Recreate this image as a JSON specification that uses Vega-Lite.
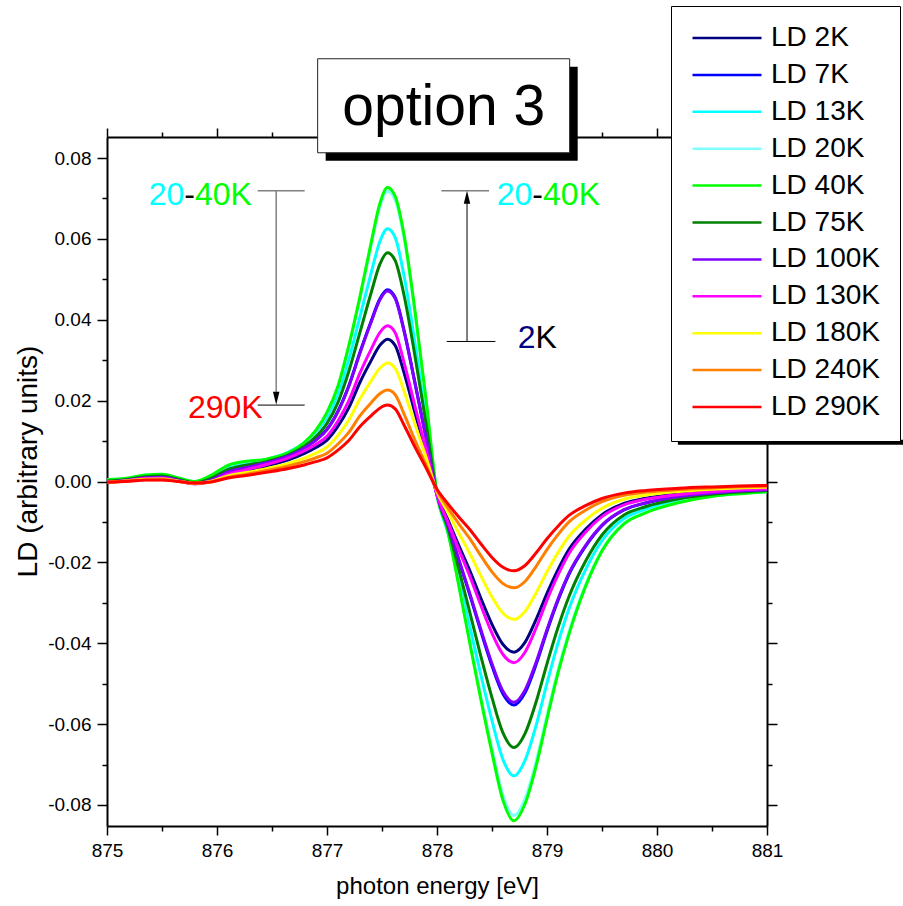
{
  "$schema": "https://vega.github.io/schema/vega-lite/v6.json",
  "width": 660,
  "height": 689,
  "autosize": "none",
  "padding": {"left": 107, "top": 137, "right": 136, "bottom": 80},
  "background": "white",
  "config": {
    "view": {"stroke": null},
    "font": "Liberation Sans",
    "axis": {"labelFont": "Liberation Sans", "titleFont": "Liberation Sans", "grid": false},
    "text": {"font": "Liberation Sans"}
  },
  "datasets": {
    "spectra": [
      {"series":"LD 2K","energy":875,"ld":-0.00021},{"series":"LD 2K","energy":875.2,"ld":0.00025},{"series":"LD 2K","energy":875.35,"ld":0.00067},{"series":"LD 2K","energy":875.5,"ld":0.00074},{"series":"LD 2K","energy":875.65,"ld":0.00011},{"series":"LD 2K","energy":875.8,"ld":-0.00053},{"series":"LD 2K","energy":875.95,"ld":0.00007},{"series":"LD 2K","energy":876.1,"ld":0.00167},{"series":"LD 2K","energy":876.25,"ld":0.00257},{"series":"LD 2K","energy":876.45,"ld":0.00384},{"series":"LD 2K","energy":876.65,"ld":0.00535},{"series":"LD 2K","energy":876.8,"ld":0.007},{"series":"LD 2K","energy":876.9,"ld":0.00841},{"series":"LD 2K","energy":877,"ld":0.01024},{"series":"LD 2K","energy":877.1,"ld":0.01369},{"series":"LD 2K","energy":877.2,"ld":0.01834},{"series":"LD 2K","energy":877.3,"ld":0.02455},{"series":"LD 2K","energy":877.4,"ld":0.02983},{"series":"LD 2K","energy":877.48,"ld":0.03365},{"series":"LD 2K","energy":877.55,"ld":0.0352},{"series":"LD 2K","energy":877.62,"ld":0.03362},{"series":"LD 2K","energy":877.7,"ld":0.02693},{"series":"LD 2K","energy":877.8,"ld":0.01698},{"series":"LD 2K","energy":877.9,"ld":0.00722},{"series":"LD 2K","energy":878,"ld":-0.0031},{"series":"LD 2K","energy":878.1,"ld":-0.0095},{"series":"LD 2K","energy":878.2,"ld":-0.01593},{"series":"LD 2K","energy":878.3,"ld":-0.02216},{"series":"LD 2K","energy":878.4,"ld":-0.02895},{"series":"LD 2K","energy":878.5,"ld":-0.03534},{"series":"LD 2K","energy":878.6,"ld":-0.0403},{"series":"LD 2K","energy":878.7,"ld":-0.0422},{"series":"LD 2K","energy":878.8,"ld":-0.03977},{"series":"LD 2K","energy":878.9,"ld":-0.03418},{"series":"LD 2K","energy":879,"ld":-0.02764},{"series":"LD 2K","energy":879.1,"ld":-0.02178},{"series":"LD 2K","energy":879.2,"ld":-0.01677},{"series":"LD 2K","energy":879.35,"ld":-0.01182},{"series":"LD 2K","energy":879.5,"ld":-0.00819},{"series":"LD 2K","energy":879.7,"ld":-0.00544},{"series":"LD 2K","energy":879.9,"ld":-0.00414},{"series":"LD 2K","energy":880.2,"ld":-0.00304},{"series":"LD 2K","energy":880.5,"ld":-0.00236},{"series":"LD 2K","energy":880.75,"ld":-0.00196},{"series":"LD 2K","energy":881,"ld":-0.00173},
      {"series":"LD 7K","energy":875,"ld":-0.00009},{"series":"LD 7K","energy":875.2,"ld":0.0004},{"series":"LD 7K","energy":875.35,"ld":0.00095},{"series":"LD 7K","energy":875.5,"ld":0.00107},{"series":"LD 7K","energy":875.65,"ld":0.00028},{"series":"LD 7K","energy":875.8,"ld":-0.00047},{"series":"LD 7K","energy":875.95,"ld":0.0004},{"series":"LD 7K","energy":876.1,"ld":0.00237},{"series":"LD 7K","energy":876.25,"ld":0.00339},{"series":"LD 7K","energy":876.45,"ld":0.00465},{"series":"LD 7K","energy":876.65,"ld":0.00635},{"series":"LD 7K","energy":876.8,"ld":0.00841},{"series":"LD 7K","energy":876.9,"ld":0.01031},{"series":"LD 7K","energy":877,"ld":0.01292},{"series":"LD 7K","energy":877.1,"ld":0.01742},{"series":"LD 7K","energy":877.2,"ld":0.02382},{"series":"LD 7K","energy":877.3,"ld":0.032},{"series":"LD 7K","energy":877.4,"ld":0.03958},{"series":"LD 7K","energy":877.48,"ld":0.04515},{"series":"LD 7K","energy":877.55,"ld":0.0474},{"series":"LD 7K","energy":877.62,"ld":0.0455},{"series":"LD 7K","energy":877.7,"ld":0.03745},{"series":"LD 7K","energy":877.8,"ld":0.02441},{"series":"LD 7K","energy":877.9,"ld":0.0109},{"series":"LD 7K","energy":878,"ld":-0.00337},{"series":"LD 7K","energy":878.1,"ld":-0.01106},{"series":"LD 7K","energy":878.2,"ld":-0.01963},{"series":"LD 7K","energy":878.3,"ld":-0.0282},{"series":"LD 7K","energy":878.4,"ld":-0.03719},{"series":"LD 7K","energy":878.5,"ld":-0.04562},{"series":"LD 7K","energy":878.6,"ld":-0.05254},{"series":"LD 7K","energy":878.7,"ld":-0.0553},{"series":"LD 7K","energy":878.8,"ld":-0.05226},{"series":"LD 7K","energy":878.9,"ld":-0.04535},{"series":"LD 7K","energy":879,"ld":-0.03705},{"series":"LD 7K","energy":879.1,"ld":-0.02945},{"series":"LD 7K","energy":879.2,"ld":-0.02295},{"series":"LD 7K","energy":879.35,"ld":-0.01604},{"series":"LD 7K","energy":879.5,"ld":-0.01092},{"series":"LD 7K","energy":879.7,"ld":-0.00705},{"series":"LD 7K","energy":879.9,"ld":-0.00531},{"series":"LD 7K","energy":880.2,"ld":-0.00379},{"series":"LD 7K","energy":880.5,"ld":-0.00288},{"series":"LD 7K","energy":880.75,"ld":-0.00238},{"series":"LD 7K","energy":881,"ld":-0.00207},
      {"series":"LD 13K","energy":875,"ld":0.00013},{"series":"LD 13K","energy":875.2,"ld":0.00063},{"series":"LD 13K","energy":875.35,"ld":0.00131},{"series":"LD 13K","energy":875.5,"ld":0.0015},{"series":"LD 13K","energy":875.65,"ld":0.00056},{"series":"LD 13K","energy":875.8,"ld":-0.00031},{"series":"LD 13K","energy":875.95,"ld":0.00094},{"series":"LD 13K","energy":876.1,"ld":0.00328},{"series":"LD 13K","energy":876.25,"ld":0.00438},{"series":"LD 13K","energy":876.45,"ld":0.00544},{"series":"LD 13K","energy":876.65,"ld":0.00725},{"series":"LD 13K","energy":876.8,"ld":0.00975},{"series":"LD 13K","energy":876.9,"ld":0.01225},{"series":"LD 13K","energy":877,"ld":0.01588},{"series":"LD 13K","energy":877.1,"ld":0.02163},{"series":"LD 13K","energy":877.2,"ld":0.03025},{"series":"LD 13K","energy":877.3,"ld":0.04078},{"series":"LD 13K","energy":877.4,"ld":0.05141},{"series":"LD 13K","energy":877.48,"ld":0.05931},{"series":"LD 13K","energy":877.55,"ld":0.0625},{"series":"LD 13K","energy":877.62,"ld":0.06031},{"series":"LD 13K","energy":877.7,"ld":0.05094},{"series":"LD 13K","energy":877.8,"ld":0.03422},{"series":"LD 13K","energy":877.9,"ld":0.01594},{"series":"LD 13K","energy":878,"ld":-0.00353},{"series":"LD 13K","energy":878.1,"ld":-0.01274},{"series":"LD 13K","energy":878.2,"ld":-0.02421},{"series":"LD 13K","energy":878.3,"ld":-0.03604},{"series":"LD 13K","energy":878.4,"ld":-0.04798},{"series":"LD 13K","energy":878.5,"ld":-0.05915},{"series":"LD 13K","energy":878.6,"ld":-0.0688},{"series":"LD 13K","energy":878.7,"ld":-0.0728},{"series":"LD 13K","energy":878.8,"ld":-0.06898},{"series":"LD 13K","energy":878.9,"ld":-0.06042},{"series":"LD 13K","energy":879,"ld":-0.04987},{"series":"LD 13K","energy":879.1,"ld":-0.03997},{"series":"LD 13K","energy":879.2,"ld":-0.03149},{"series":"LD 13K","energy":879.35,"ld":-0.02184},{"series":"LD 13K","energy":879.5,"ld":-0.01463},{"series":"LD 13K","energy":879.7,"ld":-0.00917},{"series":"LD 13K","energy":879.9,"ld":-0.00684},{"series":"LD 13K","energy":880.2,"ld":-0.00473},{"series":"LD 13K","energy":880.5,"ld":-0.00349},{"series":"LD 13K","energy":880.75,"ld":-0.00288},{"series":"LD 13K","energy":881,"ld":-0.00248},
      {"series":"LD 20K","energy":875,"ld":0.00043},{"series":"LD 20K","energy":875.2,"ld":0.00086},{"series":"LD 20K","energy":875.35,"ld":0.00158},{"series":"LD 20K","energy":875.5,"ld":0.0018},{"series":"LD 20K","energy":875.65,"ld":0.00086},{"series":"LD 20K","energy":875.8,"ld":0},{"series":"LD 20K","energy":875.95,"ld":0.00158},{"series":"LD 20K","energy":876.1,"ld":0.00395},{"series":"LD 20K","energy":876.25,"ld":0.00488},{"series":"LD 20K","energy":876.45,"ld":0.00546},{"series":"LD 20K","energy":876.65,"ld":0.00704},{"series":"LD 20K","energy":876.8,"ld":0.00969},{"series":"LD 20K","energy":876.9,"ld":0.01257},{"series":"LD 20K","energy":877,"ld":0.01687},{"series":"LD 20K","energy":877.1,"ld":0.02334},{"series":"LD 20K","energy":877.2,"ld":0.03339},{"series":"LD 20K","energy":877.3,"ld":0.04523},{"series":"LD 20K","energy":877.4,"ld":0.05816},{"series":"LD 20K","energy":877.48,"ld":0.06785},{"series":"LD 20K","energy":877.55,"ld":0.0718},{"series":"LD 20K","energy":877.62,"ld":0.06965},{"series":"LD 20K","energy":877.7,"ld":0.06031},{"series":"LD 20K","energy":877.8,"ld":0.04164},{"series":"LD 20K","energy":877.9,"ld":0.0201},{"series":"LD 20K","energy":878,"ld":-0.00297},{"series":"LD 20K","energy":878.1,"ld":-0.01239},{"series":"LD 20K","energy":878.2,"ld":-0.02561},{"series":"LD 20K","energy":878.3,"ld":-0.03965},{"series":"LD 20K","energy":878.4,"ld":-0.05328},{"series":"LD 20K","energy":878.5,"ld":-0.06608},{"series":"LD 20K","energy":878.6,"ld":-0.07764},{"series":"LD 20K","energy":878.7,"ld":-0.0826},{"series":"LD 20K","energy":878.8,"ld":-0.07847},{"series":"LD 20K","energy":878.9,"ld":-0.06938},{"series":"LD 20K","energy":879,"ld":-0.05782},{"series":"LD 20K","energy":879.1,"ld":-0.04667},{"series":"LD 20K","energy":879.2,"ld":-0.03717},{"series":"LD 20K","energy":879.35,"ld":-0.02561},{"series":"LD 20K","energy":879.5,"ld":-0.01693},{"series":"LD 20K","energy":879.7,"ld":-0.01033},{"series":"LD 20K","energy":879.9,"ld":-0.0076},{"series":"LD 20K","energy":880.2,"ld":-0.00512},{"series":"LD 20K","energy":880.5,"ld":-0.00363},{"series":"LD 20K","energy":880.75,"ld":-0.00297},{"series":"LD 20K","energy":881,"ld":-0.00248},
      {"series":"LD 40K","energy":875,"ld":0.00044},{"series":"LD 40K","energy":875.2,"ld":0.00087},{"series":"LD 40K","energy":875.35,"ld":0.0016},{"series":"LD 40K","energy":875.5,"ld":0.00182},{"series":"LD 40K","energy":875.65,"ld":0.00087},{"series":"LD 40K","energy":875.8,"ld":0},{"series":"LD 40K","energy":875.95,"ld":0.0016},{"series":"LD 40K","energy":876.1,"ld":0.004},{"series":"LD 40K","energy":876.25,"ld":0.00494},{"series":"LD 40K","energy":876.45,"ld":0.00553},{"series":"LD 40K","energy":876.65,"ld":0.00712},{"series":"LD 40K","energy":876.8,"ld":0.00981},{"series":"LD 40K","energy":876.9,"ld":0.01272},{"series":"LD 40K","energy":877,"ld":0.01708},{"series":"LD 40K","energy":877.1,"ld":0.02363},{"series":"LD 40K","energy":877.2,"ld":0.03381},{"series":"LD 40K","energy":877.3,"ld":0.0458},{"series":"LD 40K","energy":877.4,"ld":0.05889},{"series":"LD 40K","energy":877.48,"ld":0.0687},{"series":"LD 40K","energy":877.55,"ld":0.0727},{"series":"LD 40K","energy":877.62,"ld":0.07052},{"series":"LD 40K","energy":877.7,"ld":0.06107},{"series":"LD 40K","energy":877.8,"ld":0.04217},{"series":"LD 40K","energy":877.9,"ld":0.02036},{"series":"LD 40K","energy":878,"ld":-0.00302},{"series":"LD 40K","energy":878.1,"ld":-0.01259},{"series":"LD 40K","energy":878.2,"ld":-0.02601},{"series":"LD 40K","energy":878.3,"ld":-0.04027},{"series":"LD 40K","energy":878.4,"ld":-0.05412},{"series":"LD 40K","energy":878.5,"ld":-0.06712},{"series":"LD 40K","energy":878.6,"ld":-0.07887},{"series":"LD 40K","energy":878.7,"ld":-0.0839},{"series":"LD 40K","energy":878.8,"ld":-0.07971},{"series":"LD 40K","energy":878.9,"ld":-0.07048},{"series":"LD 40K","energy":879,"ld":-0.05873},{"series":"LD 40K","energy":879.1,"ld":-0.0474},{"series":"LD 40K","energy":879.2,"ld":-0.03776},{"series":"LD 40K","energy":879.35,"ld":-0.02601},{"series":"LD 40K","energy":879.5,"ld":-0.0172},{"series":"LD 40K","energy":879.7,"ld":-0.01049},{"series":"LD 40K","energy":879.9,"ld":-0.00772},{"series":"LD 40K","energy":880.2,"ld":-0.0052},{"series":"LD 40K","energy":880.5,"ld":-0.00369},{"series":"LD 40K","energy":880.75,"ld":-0.00302},{"series":"LD 40K","energy":881,"ld":-0.00252},
      {"series":"LD 75K","energy":875,"ld":0.00011},{"series":"LD 75K","energy":875.2,"ld":0.00057},{"series":"LD 75K","energy":875.35,"ld":0.00119},{"series":"LD 75K","energy":875.5,"ld":0.00136},{"series":"LD 75K","energy":875.65,"ld":0.00051},{"series":"LD 75K","energy":875.8,"ld":-0.00028},{"series":"LD 75K","energy":875.95,"ld":0.00085},{"series":"LD 75K","energy":876.1,"ld":0.00297},{"series":"LD 75K","energy":876.25,"ld":0.00396},{"series":"LD 75K","energy":876.45,"ld":0.00492},{"series":"LD 75K","energy":876.65,"ld":0.00657},{"series":"LD 75K","energy":876.8,"ld":0.00883},{"series":"LD 75K","energy":876.9,"ld":0.01109},{"series":"LD 75K","energy":877,"ld":0.01438},{"series":"LD 75K","energy":877.1,"ld":0.01958},{"series":"LD 75K","energy":877.2,"ld":0.02739},{"series":"LD 75K","energy":877.3,"ld":0.03693},{"series":"LD 75K","energy":877.4,"ld":0.04655},{"series":"LD 75K","energy":877.48,"ld":0.05371},{"series":"LD 75K","energy":877.55,"ld":0.0566},{"series":"LD 75K","energy":877.62,"ld":0.05462},{"series":"LD 75K","energy":877.7,"ld":0.04613},{"series":"LD 75K","energy":877.8,"ld":0.03099},{"series":"LD 75K","energy":877.9,"ld":0.01443},{"series":"LD 75K","energy":878,"ld":-0.00319},{"series":"LD 75K","energy":878.1,"ld":-0.01152},{"series":"LD 75K","energy":878.2,"ld":-0.02188},{"series":"LD 75K","energy":878.3,"ld":-0.03257},{"series":"LD 75K","energy":878.4,"ld":-0.04336},{"series":"LD 75K","energy":878.5,"ld":-0.05346},{"series":"LD 75K","energy":878.6,"ld":-0.06218},{"series":"LD 75K","energy":878.7,"ld":-0.0658},{"series":"LD 75K","energy":878.8,"ld":-0.06235},{"series":"LD 75K","energy":878.9,"ld":-0.05461},{"series":"LD 75K","energy":879,"ld":-0.04507},{"series":"LD 75K","energy":879.1,"ld":-0.03612},{"series":"LD 75K","energy":879.2,"ld":-0.02846},{"series":"LD 75K","energy":879.35,"ld":-0.01974},{"series":"LD 75K","energy":879.5,"ld":-0.01323},{"series":"LD 75K","energy":879.7,"ld":-0.00829},{"series":"LD 75K","energy":879.9,"ld":-0.00619},{"series":"LD 75K","energy":880.2,"ld":-0.00428},{"series":"LD 75K","energy":880.5,"ld":-0.00316},{"series":"LD 75K","energy":880.75,"ld":-0.0026},{"series":"LD 75K","energy":881,"ld":-0.00224},
      {"series":"LD 100K","energy":875,"ld":-0.00009},{"series":"LD 100K","energy":875.2,"ld":0.0004},{"series":"LD 100K","energy":875.35,"ld":0.00094},{"series":"LD 100K","energy":875.5,"ld":0.00106},{"series":"LD 100K","energy":875.65,"ld":0.00028},{"series":"LD 100K","energy":875.8,"ld":-0.00047},{"series":"LD 100K","energy":875.95,"ld":0.0004},{"series":"LD 100K","energy":876.1,"ld":0.00236},{"series":"LD 100K","energy":876.25,"ld":0.00337},{"series":"LD 100K","energy":876.45,"ld":0.00462},{"series":"LD 100K","energy":876.65,"ld":0.00631},{"series":"LD 100K","energy":876.8,"ld":0.00836},{"series":"LD 100K","energy":876.9,"ld":0.01024},{"series":"LD 100K","energy":877,"ld":0.01283},{"series":"LD 100K","energy":877.1,"ld":0.01731},{"series":"LD 100K","energy":877.2,"ld":0.02367},{"series":"LD 100K","energy":877.3,"ld":0.03179},{"series":"LD 100K","energy":877.4,"ld":0.03933},{"series":"LD 100K","energy":877.48,"ld":0.04486},{"series":"LD 100K","energy":877.55,"ld":0.0471},{"series":"LD 100K","energy":877.62,"ld":0.04522},{"series":"LD 100K","energy":877.7,"ld":0.03721},{"series":"LD 100K","energy":877.8,"ld":0.02426},{"series":"LD 100K","energy":877.9,"ld":0.01083},{"series":"LD 100K","energy":878,"ld":-0.00333},{"series":"LD 100K","energy":878.1,"ld":-0.01092},{"series":"LD 100K","energy":878.2,"ld":-0.01938},{"series":"LD 100K","energy":878.3,"ld":-0.02785},{"series":"LD 100K","energy":878.4,"ld":-0.03672},{"series":"LD 100K","energy":878.5,"ld":-0.04505},{"series":"LD 100K","energy":878.6,"ld":-0.05187},{"series":"LD 100K","energy":878.7,"ld":-0.0546},{"series":"LD 100K","energy":878.8,"ld":-0.0516},{"series":"LD 100K","energy":878.9,"ld":-0.04477},{"series":"LD 100K","energy":879,"ld":-0.03658},{"series":"LD 100K","energy":879.1,"ld":-0.02907},{"series":"LD 100K","energy":879.2,"ld":-0.02266},{"series":"LD 100K","energy":879.35,"ld":-0.01583},{"series":"LD 100K","energy":879.5,"ld":-0.01078},{"series":"LD 100K","energy":879.7,"ld":-0.00696},{"series":"LD 100K","energy":879.9,"ld":-0.00524},{"series":"LD 100K","energy":880.2,"ld":-0.00374},{"series":"LD 100K","energy":880.5,"ld":-0.00284},{"series":"LD 100K","energy":880.75,"ld":-0.00235},{"series":"LD 100K","energy":881,"ld":-0.00205},
      {"series":"LD 130K","energy":875,"ld":-0.00023},{"series":"LD 130K","energy":875.2,"ld":0.00027},{"series":"LD 130K","energy":875.35,"ld":0.00073},{"series":"LD 130K","energy":875.5,"ld":0.00081},{"series":"LD 130K","energy":875.65,"ld":0.00012},{"series":"LD 130K","energy":875.8,"ld":-0.00058},{"series":"LD 130K","energy":875.95,"ld":0.00008},{"series":"LD 130K","energy":876.1,"ld":0.00183},{"series":"LD 130K","energy":876.25,"ld":0.00281},{"series":"LD 130K","energy":876.45,"ld":0.0042},{"series":"LD 130K","energy":876.65,"ld":0.00585},{"series":"LD 130K","energy":876.8,"ld":0.00766},{"series":"LD 130K","energy":876.9,"ld":0.0092},{"series":"LD 130K","energy":877,"ld":0.0112},{"series":"LD 130K","energy":877.1,"ld":0.01498},{"series":"LD 130K","energy":877.2,"ld":0.02006},{"series":"LD 130K","energy":877.3,"ld":0.02685},{"series":"LD 130K","energy":877.4,"ld":0.03263},{"series":"LD 130K","energy":877.48,"ld":0.03681},{"series":"LD 130K","energy":877.55,"ld":0.0385},{"series":"LD 130K","energy":877.62,"ld":0.03677},{"series":"LD 130K","energy":877.7,"ld":0.02945},{"series":"LD 130K","energy":877.8,"ld":0.01858},{"series":"LD 130K","energy":877.9,"ld":0.00789},{"series":"LD 130K","energy":878,"ld":-0.00329},{"series":"LD 130K","energy":878.1,"ld":-0.01008},{"series":"LD 130K","energy":878.2,"ld":-0.01691},{"series":"LD 130K","energy":878.3,"ld":-0.02352},{"series":"LD 130K","energy":878.4,"ld":-0.03073},{"series":"LD 130K","energy":878.5,"ld":-0.03752},{"series":"LD 130K","energy":878.6,"ld":-0.04278},{"series":"LD 130K","energy":878.7,"ld":-0.0448},{"series":"LD 130K","energy":878.8,"ld":-0.04222},{"series":"LD 130K","energy":878.9,"ld":-0.03629},{"series":"LD 130K","energy":879,"ld":-0.02934},{"series":"LD 130K","energy":879.1,"ld":-0.02312},{"series":"LD 130K","energy":879.2,"ld":-0.01781},{"series":"LD 130K","energy":879.35,"ld":-0.01254},{"series":"LD 130K","energy":879.5,"ld":-0.00869},{"series":"LD 130K","energy":879.7,"ld":-0.00578},{"series":"LD 130K","energy":879.9,"ld":-0.00439},{"series":"LD 130K","energy":880.2,"ld":-0.00323},{"series":"LD 130K","energy":880.5,"ld":-0.00251},{"series":"LD 130K","energy":880.75,"ld":-0.00208},{"series":"LD 130K","energy":881,"ld":-0.00184},
      {"series":"LD 180K","energy":875,"ld":-0.00018},{"series":"LD 180K","energy":875.2,"ld":0.00021},{"series":"LD 180K","energy":875.35,"ld":0.00056},{"series":"LD 180K","energy":875.5,"ld":0.00062},{"series":"LD 180K","energy":875.65,"ld":0.00009},{"series":"LD 180K","energy":875.8,"ld":-0.00044},{"series":"LD 180K","energy":875.95,"ld":0.00006},{"series":"LD 180K","energy":876.1,"ld":0.00139},{"series":"LD 180K","energy":876.25,"ld":0.00214},{"series":"LD 180K","energy":876.45,"ld":0.00319},{"series":"LD 180K","energy":876.65,"ld":0.00445},{"series":"LD 180K","energy":876.8,"ld":0.00583},{"series":"LD 180K","energy":876.9,"ld":0.007},{"series":"LD 180K","energy":877,"ld":0.00853},{"series":"LD 180K","energy":877.1,"ld":0.0114},{"series":"LD 180K","energy":877.2,"ld":0.01527},{"series":"LD 180K","energy":877.3,"ld":0.02044},{"series":"LD 180K","energy":877.4,"ld":0.02483},{"series":"LD 180K","energy":877.48,"ld":0.02801},{"series":"LD 180K","energy":877.55,"ld":0.0293},{"series":"LD 180K","energy":877.62,"ld":0.02798},{"series":"LD 180K","energy":877.7,"ld":0.02241},{"series":"LD 180K","energy":877.8,"ld":0.01414},{"series":"LD 180K","energy":877.9,"ld":0.00601},{"series":"LD 180K","energy":878,"ld":-0.00251},{"series":"LD 180K","energy":878.1,"ld":-0.00767},{"series":"LD 180K","energy":878.2,"ld":-0.01287},{"series":"LD 180K","energy":878.3,"ld":-0.0179},{"series":"LD 180K","energy":878.4,"ld":-0.02339},{"series":"LD 180K","energy":878.5,"ld":-0.02856},{"series":"LD 180K","energy":878.6,"ld":-0.03257},{"series":"LD 180K","energy":878.7,"ld":-0.0341},{"series":"LD 180K","energy":878.8,"ld":-0.03214},{"series":"LD 180K","energy":878.9,"ld":-0.02762},{"series":"LD 180K","energy":879,"ld":-0.02234},{"series":"LD 180K","energy":879.1,"ld":-0.0176},{"series":"LD 180K","energy":879.2,"ld":-0.01355},{"series":"LD 180K","energy":879.35,"ld":-0.00955},{"series":"LD 180K","energy":879.5,"ld":-0.00662},{"series":"LD 180K","energy":879.7,"ld":-0.0044},{"series":"LD 180K","energy":879.9,"ld":-0.00334},{"series":"LD 180K","energy":880.2,"ld":-0.00246},{"series":"LD 180K","energy":880.5,"ld":-0.00191},{"series":"LD 180K","energy":880.75,"ld":-0.00159},{"series":"LD 180K","energy":881,"ld":-0.0014},
      {"series":"LD 240K","energy":875,"ld":-0.00023},{"series":"LD 240K","energy":875.2,"ld":0.00011},{"series":"LD 240K","energy":875.35,"ld":0.00041},{"series":"LD 240K","energy":875.5,"ld":0.00045},{"series":"LD 240K","energy":875.65,"ld":0},{"series":"LD 240K","energy":875.8,"ld":-0.00045},{"series":"LD 240K","energy":875.95,"ld":-0.00011},{"series":"LD 240K","energy":876.1,"ld":0.00102},{"series":"LD 240K","energy":876.25,"ld":0.0017},{"series":"LD 240K","energy":876.45,"ld":0.00271},{"series":"LD 240K","energy":876.65,"ld":0.00384},{"series":"LD 240K","energy":876.8,"ld":0.00497},{"series":"LD 240K","energy":876.9,"ld":0.00588},{"series":"LD 240K","energy":877,"ld":0.00701},{"series":"LD 240K","energy":877.1,"ld":0.00927},{"series":"LD 240K","energy":877.2,"ld":0.0122},{"series":"LD 240K","energy":877.3,"ld":0.01627},{"series":"LD 240K","energy":877.4,"ld":0.01944},{"series":"LD 240K","energy":877.48,"ld":0.0217},{"series":"LD 240K","energy":877.55,"ld":0.0226},{"series":"LD 240K","energy":877.62,"ld":0.02147},{"series":"LD 240K","energy":877.7,"ld":0.01672},{"series":"LD 240K","energy":877.8,"ld":0.01017},{"series":"LD 240K","energy":877.9,"ld":0.00407},{"series":"LD 240K","energy":878,"ld":-0.00226},{"series":"LD 240K","energy":878.1,"ld":-0.00658},{"series":"LD 240K","energy":878.2,"ld":-0.01052},{"series":"LD 240K","energy":878.3,"ld":-0.0142},{"series":"LD 240K","energy":878.4,"ld":-0.01841},{"series":"LD 240K","energy":878.5,"ld":-0.02236},{"series":"LD 240K","energy":878.6,"ld":-0.02525},{"series":"LD 240K","energy":878.7,"ld":-0.0263},{"series":"LD 240K","energy":878.8,"ld":-0.02472},{"series":"LD 240K","energy":878.9,"ld":-0.02104},{"series":"LD 240K","energy":879,"ld":-0.01683},{"series":"LD 240K","energy":879.1,"ld":-0.01315},{"series":"LD 240K","energy":879.2,"ld":-0.00999},{"series":"LD 240K","energy":879.35,"ld":-0.0071},{"series":"LD 240K","energy":879.5,"ld":-0.005},{"series":"LD 240K","energy":879.7,"ld":-0.00342},{"series":"LD 240K","energy":879.9,"ld":-0.00263},{"series":"LD 240K","energy":880.2,"ld":-0.00197},{"series":"LD 240K","energy":880.5,"ld":-0.00158},{"series":"LD 240K","energy":880.75,"ld":-0.00132},{"series":"LD 240K","energy":881,"ld":-0.00118},
      {"series":"LD 290K","energy":875,"ld":-0.00019},{"series":"LD 290K","energy":875.2,"ld":0.00009},{"series":"LD 290K","energy":875.35,"ld":0.00034},{"series":"LD 290K","energy":875.5,"ld":0.00038},{"series":"LD 290K","energy":875.65,"ld":0},{"series":"LD 290K","energy":875.8,"ld":-0.00038},{"series":"LD 290K","energy":875.95,"ld":-0.00009},{"series":"LD 290K","energy":876.1,"ld":0.00085},{"series":"LD 290K","energy":876.25,"ld":0.00142},{"series":"LD 290K","energy":876.45,"ld":0.00227},{"series":"LD 290K","energy":876.65,"ld":0.00321},{"series":"LD 290K","energy":876.8,"ld":0.00416},{"series":"LD 290K","energy":876.9,"ld":0.00491},{"series":"LD 290K","energy":877,"ld":0.00586},{"series":"LD 290K","energy":877.1,"ld":0.00775},{"series":"LD 290K","energy":877.2,"ld":0.01021},{"series":"LD 290K","energy":877.3,"ld":0.01361},{"series":"LD 290K","energy":877.4,"ld":0.01625},{"series":"LD 290K","energy":877.48,"ld":0.01814},{"series":"LD 290K","energy":877.55,"ld":0.0189},{"series":"LD 290K","energy":877.62,"ld":0.01796},{"series":"LD 290K","energy":877.7,"ld":0.01399},{"series":"LD 290K","energy":877.8,"ld":0.00851},{"series":"LD 290K","energy":877.9,"ld":0.0034},{"series":"LD 290K","energy":878,"ld":-0.0019},{"series":"LD 290K","energy":878.1,"ld":-0.00553},{"series":"LD 290K","energy":878.2,"ld":-0.00884},{"series":"LD 290K","energy":878.3,"ld":-0.01193},{"series":"LD 290K","energy":878.4,"ld":-0.01547},{"series":"LD 290K","energy":878.5,"ld":-0.01879},{"series":"LD 290K","energy":878.6,"ld":-0.02122},{"series":"LD 290K","energy":878.7,"ld":-0.0221},{"series":"LD 290K","energy":878.8,"ld":-0.02077},{"series":"LD 290K","energy":878.9,"ld":-0.01768},{"series":"LD 290K","energy":879,"ld":-0.01414},{"series":"LD 290K","energy":879.1,"ld":-0.01105},{"series":"LD 290K","energy":879.2,"ld":-0.0084},{"series":"LD 290K","energy":879.35,"ld":-0.00597},{"series":"LD 290K","energy":879.5,"ld":-0.0042},{"series":"LD 290K","energy":879.7,"ld":-0.00287},{"series":"LD 290K","energy":879.9,"ld":-0.00221},{"series":"LD 290K","energy":880.2,"ld":-0.00166},{"series":"LD 290K","energy":880.5,"ld":-0.00133},{"series":"LD 290K","energy":880.75,"ld":-0.00111},{"series":"LD 290K","energy":881,"ld":-0.00099}
    ]
  },
  "resolve": {"axis": {"x": "independent", "y": "independent"}},
  "layer": [
    {
      "data": {"name": "spectra"},
      "mark": {"type": "line", "strokeWidth": 3, "interpolate": "monotone"},
      "encoding": {
        "x": {
          "field": "energy", "type": "quantitative",
          "scale": {"domain": [875, 881], "nice": false, "zero": false},
          "axis": {
            "orient": "bottom",
            "values": [875, 875.5, 876, 876.5, 877, 877.5, 878, 878.5, 879, 879.5, 880, 880.5, 881],
            "labelExpr": "datum.value % 1 == 0 ? format(datum.value, 'd') : ''",
            "tickSize": {"condition": {"test": "datum.value % 1 != 0", "value": 5}, "value": 9},
            "tickWidth": 1.5, "tickColor": "black",
            "domainWidth": 2, "domainColor": "black",
            "labelFontSize": 19, "labelColor": "black", "labelPadding": 6,
            "labelFlush": false, "labelOverlap": false, "labelBound": false,
            "title": "photon energy [eV]", "titleFontSize": 24, "titleFontWeight": "normal",
            "titleColor": "black", "titlePadding": 14
          }
        },
        "y": {
          "field": "ld", "type": "quantitative",
          "scale": {"domain": [-0.0852, 0.0852], "nice": false, "zero": false},
          "axis": {
            "orient": "left",
            "values": [-0.08, -0.07, -0.06, -0.05, -0.04, -0.03, -0.02, -0.01, 0, 0.01, 0.02, 0.03, 0.04, 0.05, 0.06, 0.07, 0.08],
            "labelExpr": "abs(round(datum.value * 100)) % 2 == 1 ? '' : replace(format(datum.value, '.2f'), '\u2212', '-')",
            "tickSize": {"condition": {"test": "abs(round(datum.value * 100)) % 2 == 1", "value": 5}, "value": 10},
            "tickWidth": 1.5, "tickColor": "black",
            "domainWidth": 2, "domainColor": "black",
            "labelFontSize": 19, "labelColor": "black", "labelPadding": 6,
            "labelFlush": false, "labelOverlap": false, "labelBound": false,
            "title": "LD (arbitrary units)", "titleFontSize": 28, "titleFontWeight": "normal",
            "titleColor": "black", "titlePadding": 5, "titleY": 324
          }
        },
        "color": {
          "field": "series", "type": "nominal",
          "scale": {
            "domain": ["LD 2K", "LD 7K", "LD 13K", "LD 20K", "LD 40K", "LD 75K", "LD 100K", "LD 130K", "LD 180K", "LD 240K", "LD 290K"],
            "range": ["#000080", "#0000ff", "#00ffff", "#80ffff", "#00ff00", "#008000", "#8000ff", "#ff00ff", "#ffff00", "#ff8000", "#ff0000"]
          },
          "legend": {
            "orient": "none", "legendX": 564, "legendY": -131,
            "title": null,
            "symbolType": "stroke", "symbolSize": 4761, "symbolStrokeWidth": 2.5,
            "labelFontSize": 28, "labelFont": "Liberation Sans", "labelColor": "black",
            "labelOffset": 8, "labelLimit": 400,
            "fillColor": "white", "strokeColor": "black",
            "padding": 20, "clipHeight": 24, "rowPadding": 8.9
          }
        }
      }
    },
    {
      "data": {"values": [{}]},
      "mark": {"type": "rule", "color": "#808080", "strokeWidth": 1.5},
      "encoding": {
        "x": {
          "datum": 876.37, "type": "quantitative",
          "axis": {
            "orient": "top",
            "values": [875, 875.5, 876, 876.5, 877, 877.5, 878, 878.5, 879, 879.5, 880, 880.5, 881],
            "labels": false, "title": null,
            "tickSize": {"condition": {"test": "datum.value % 1 != 0", "value": 5}, "value": 9},
            "tickWidth": 1.5, "tickColor": "black", "domainWidth": 2, "domainColor": "black"
          }
        },
        "x2": {"datum": 876.797},
        "y": {
          "datum": 0.0719, "type": "quantitative",
          "axis": {
            "orient": "right",
            "values": [-0.08, -0.07, -0.06, -0.05, -0.04, -0.03, -0.02, -0.01, 0, 0.01, 0.02, 0.03, 0.04, 0.05, 0.06, 0.07, 0.08],
            "labels": false, "title": null,
            "tickSize": {"condition": {"test": "abs(round(datum.value * 100)) % 2 == 1", "value": 5}, "value": 10},
            "tickWidth": 1.5, "tickColor": "black", "domainWidth": 2, "domainColor": "black"
          }
        }
      }
    },
    {
      "data": {"values": [{}]},
      "mark": {"type": "rule", "color": "#808080", "strokeWidth": 1.5},
      "encoding": {
        "x": {"datum": 878.04, "type": "quantitative", "axis": null},
        "x2": {"datum": 878.473},
        "y": {"datum": 0.0719, "type": "quantitative", "axis": null}
      }
    },
    {
      "data": {"values": [{}]},
      "mark": {"type": "rule", "color": "black", "strokeWidth": 1},
      "encoding": {
        "x": {"datum": 876.37, "type": "quantitative", "axis": null},
        "x2": {"datum": 876.797},
        "y": {"datum": 0.0189, "type": "quantitative", "axis": null}
      }
    },
    {
      "data": {"values": [{}]},
      "mark": {"type": "rule", "color": "black", "strokeWidth": 1},
      "encoding": {
        "x": {"datum": 878.088, "type": "quantitative", "axis": null},
        "x2": {"datum": 878.531},
        "y": {"datum": 0.03463, "type": "quantitative", "axis": null}
      }
    },
    {
      "data": {"values": [{}]},
      "mark": {"type": "rule", "color": "#808080", "strokeWidth": 1.5},
      "encoding": {
        "x": {"datum": 876.538, "type": "quantitative", "axis": null},
        "y": {"datum": 0.0719, "type": "quantitative", "axis": null},
        "y2": {"datum": 0.0206}
      }
    },
    {
      "data": {"values": [{}]},
      "mark": {"type": "rule", "color": "black", "strokeWidth": 1},
      "encoding": {
        "x": {"datum": 878.273, "type": "quantitative", "axis": null},
        "y": {"datum": 0.03463, "type": "quantitative", "axis": null},
        "y2": {"datum": 0.0703}
      }
    },
    {
      "data": {"values": [{}]},
      "mark": {"type": "point", "shape": "M-0.5,-1L0.5,-1L0,1Z", "size": 169, "filled": true, "color": "black", "opacity": 1},
      "encoding": {
        "x": {"datum": 876.538, "type": "quantitative", "axis": null},
        "y": {"datum": 0.02058, "type": "quantitative", "axis": null}
      }
    },
    {
      "data": {"values": [{}]},
      "mark": {"type": "point", "shape": "M-0.5,1L0.5,1L0,-1Z", "size": 169, "filled": true, "color": "black", "opacity": 1},
      "encoding": {
        "x": {"datum": 878.273, "type": "quantitative", "axis": null},
        "y": {"datum": 0.07029, "type": "quantitative", "axis": null}
      }
    },
    {
      "data": {"values": [{}]},
      "mark": {"type": "text", "text": "20", "fontSize": 32, "align": "left", "baseline": "alphabetic", "color": "#00ffff"},
      "encoding": {
        "x": {"datum": 875.38, "type": "quantitative", "axis": null},
        "y": {"datum": 0.06844, "type": "quantitative", "axis": null}
      }
    },
    {
      "data": {"values": [{}]},
      "mark": {"type": "text", "text": "-", "fontSize": 32, "align": "left", "baseline": "alphabetic", "color": "black"},
      "encoding": {
        "x": {"datum": 875.703, "type": "quantitative", "axis": null},
        "y": {"datum": 0.06844, "type": "quantitative", "axis": null}
      }
    },
    {
      "data": {"values": [{}]},
      "mark": {"type": "text", "text": "40K", "fontSize": 32, "align": "left", "baseline": "alphabetic", "color": "#00ff00"},
      "encoding": {
        "x": {"datum": 875.8, "type": "quantitative", "axis": null},
        "y": {"datum": 0.06844, "type": "quantitative", "axis": null}
      }
    },
    {
      "data": {"values": [{}]},
      "mark": {"type": "text", "text": "20", "fontSize": 32, "align": "left", "baseline": "alphabetic", "color": "#00ffff"},
      "encoding": {
        "x": {"datum": 878.543, "type": "quantitative", "axis": null},
        "y": {"datum": 0.06844, "type": "quantitative", "axis": null}
      }
    },
    {
      "data": {"values": [{}]},
      "mark": {"type": "text", "text": "-", "fontSize": 32, "align": "left", "baseline": "alphabetic", "color": "black"},
      "encoding": {
        "x": {"datum": 878.866, "type": "quantitative", "axis": null},
        "y": {"datum": 0.06844, "type": "quantitative", "axis": null}
      }
    },
    {
      "data": {"values": [{}]},
      "mark": {"type": "text", "text": "40K", "fontSize": 32, "align": "left", "baseline": "alphabetic", "color": "#00ff00"},
      "encoding": {
        "x": {"datum": 878.964, "type": "quantitative", "axis": null},
        "y": {"datum": 0.06844, "type": "quantitative", "axis": null}
      }
    },
    {
      "data": {"values": [{}]},
      "mark": {"type": "text", "text": "2", "fontSize": 32, "align": "left", "baseline": "alphabetic", "color": "#000080"},
      "encoding": {
        "x": {"datum": 878.734, "type": "quantitative", "axis": null},
        "y": {"datum": 0.03307, "type": "quantitative", "axis": null}
      }
    },
    {
      "data": {"values": [{}]},
      "mark": {"type": "text", "text": "K", "fontSize": 32, "align": "left", "baseline": "alphabetic", "color": "black"},
      "encoding": {
        "x": {"datum": 878.895, "type": "quantitative", "axis": null},
        "y": {"datum": 0.03307, "type": "quantitative", "axis": null}
      }
    },
    {
      "data": {"values": [{}]},
      "mark": {"type": "text", "text": "290K", "fontSize": 32, "align": "right", "baseline": "alphabetic", "color": "#ff0000"},
      "encoding": {
        "x": {"datum": 876.415, "type": "quantitative", "axis": null},
        "y": {"datum": 0.01575, "type": "quantitative", "axis": null}
      }
    },
    {
      "data": {"values": [{}]},
      "mark": {"type": "rect", "color": "black", "opacity": 1},
      "encoding": {
        "x": {"datum": 876.988, "type": "quantitative", "axis": null},
        "x2": {"datum": 879.279},
        "y": {"datum": 0.10257, "type": "quantitative", "axis": null},
        "y2": {"datum": 0.07932}
      }
    },
    {
      "data": {"values": [{}]},
      "mark": {"type": "rect", "fill": "white", "stroke": "#222222", "strokeWidth": 1, "opacity": 1},
      "encoding": {
        "x": {"datum": 876.915, "type": "quantitative", "axis": null},
        "x2": {"datum": 879.206},
        "y": {"datum": 0.10455, "type": "quantitative", "axis": null},
        "y2": {"datum": 0.0813}
      }
    },
    {
      "data": {"values": [{}]},
      "mark": {"type": "text", "text": "option 3", "fontSize": 57, "align": "center", "baseline": "alphabetic", "color": "black"},
      "encoding": {
        "x": {"datum": 878.061, "type": "quantitative", "axis": null},
        "y": {"datum": 0.08823, "type": "quantitative", "axis": null}
      }
    },
    {
      "data": {"values": [{}]},
      "mark": {"type": "rect", "color": "black", "opacity": 1},
      "encoding": {
        "x": {"datum": 880.19, "type": "quantitative", "axis": null},
        "x2": {"datum": 882.3},
        "y": {"datum": 0.01031, "type": "quantitative", "axis": null},
        "y2": {"datum": 0.00908}
      }
    }
  ]
}
